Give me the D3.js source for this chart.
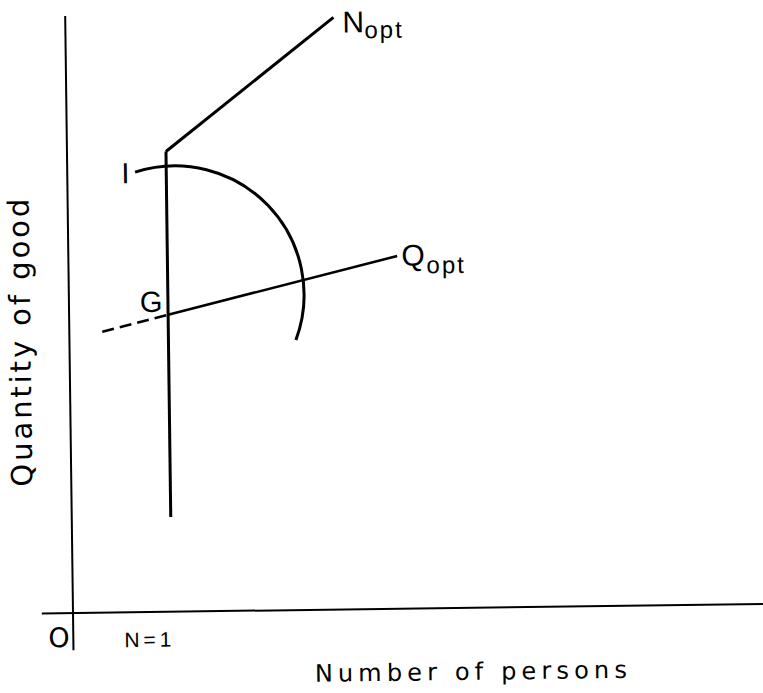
<!DOCTYPE html>
<html>
<head>
<meta charset="utf-8">
<script src="https://cdn.jsdelivr.net/npm/d3@7"></script>
<style>
  html, body { margin: 0; padding: 0; background: #fff; }
  svg { display: block; }
  text { font-family: "Liberation Sans", Arial, sans-serif; fill: #000; }
  text.title { font-family: "DejaVu Sans", sans-serif; }
</style>
</head>
<body>
<svg id="chart" width="763" height="693"></svg>
<script>
// diagram coordinates (origin at O, roughly 6px per unit)
const xAxisSpan = [-5.2, 115];
const yAxisSpan = [-6.2, 99.5];
const nOneX = 16.5;
const nOneSpan = [15.8, 76.7];
const nOptLine = [[16.5, 76.7], [44.7, 98.7]];
const qOptDashed = [[5.5, 46.8], [16.5, 49.5]];
const qOptSolid = [[16.5, 49.5], [54.8, 58.8]];
const iArcCentre = [17.7, 52.8];
const iArcRadius = 21.5;
const iArcAngles = [-107.3, 21.2]; // degrees, clockwise from +x on screen

const svg = d3.select('#chart');
svg.append('rect').attr('width', 763).attr('height', 693).attr('fill', '#fff');

const x = d3.scaleLinear().domain([0, 115]).range([73, 763]);
const y = d3.scaleLinear().domain([0, 100]).range([613, 13]);

// the scanned page sits a little crooked
const g = svg.append('g').attr('transform', 'rotate(-0.75, 73, 613)');

const line = d3.line().x(d => x(d[0])).y(d => y(d[1]));

// axes
g.append('path')
  .attr('d', line([[xAxisSpan[0], 0], [xAxisSpan[1], 0]]))
  .attr('stroke', '#000').attr('stroke-width', 2).attr('fill', 'none');
g.append('path')
  .attr('d', line([[0, yAxisSpan[0]], [0, yAxisSpan[1]]]))
  .attr('stroke', '#000').attr('stroke-width', 2).attr('fill', 'none');

// N = 1 line and the N_opt branch
g.append('path')
  .attr('d', line([[nOneX, nOneSpan[0]], [nOneX, nOneSpan[1]]]))
  .attr('stroke', '#000').attr('stroke-width', 3).attr('fill', 'none');
g.append('path')
  .attr('d', line(nOptLine))
  .attr('stroke', '#000').attr('stroke-width', 3).attr('fill', 'none');

// Q_opt line, dashed left of G
g.append('path')
  .attr('d', line(qOptDashed))
  .attr('stroke', '#000').attr('stroke-width', 2.5).attr('fill', 'none')
  .attr('stroke-dasharray', '12,6');
g.append('path')
  .attr('d', line(qOptSolid))
  .attr('stroke', '#000').attr('stroke-width', 2.5).attr('fill', 'none');

// indifference arc I
const rad = Math.PI / 180;
const arc = d3.path();
arc.arc(x(iArcCentre[0]), y(iArcCentre[1]), x(iArcRadius) - x(0),
  iArcAngles[0] * rad, iArcAngles[1] * rad);
g.append('path')
  .attr('d', arc.toString())
  .attr('stroke', '#000').attr('stroke-width', 3).attr('fill', 'none');

// labels
function label(txt, px, py, size, extra) {
  const t = g.append('text').attr('x', px).attr('y', py)
    .attr('font-size', size).text(txt);
  if (extra) Object.entries(extra).forEach(([k, v]) => t.attr(k, v));
  return t;
}

label('N', 350, 36, 30);
label('opt', 372, 42, 24, { 'letter-spacing': 2 });
label('Q', 406, 270, 30);
label('opt', 431, 278, 24, { 'letter-spacing': 2 });
label('G', 144, 313, 29);
label('I', 127, 184, 29);
label('O', 48, 647, 27, { class: 'title' });
label('N=1', 124, 648, 21, { textLength: 47, lengthAdjust: 'spacing' });

label('Number of persons', 314, 685, 24, {
  class: 'title', textLength: 312, lengthAdjust: 'spacing'
});

g.append('text')
  .attr('class', 'title')
  .attr('transform', 'translate(34,342) rotate(-90)')
  .attr('text-anchor', 'middle')
  .attr('font-size', 29)
  .attr('textLength', 288).attr('lengthAdjust', 'spacing')
  .text('Quantity of good');
</script>
</body>
</html>
